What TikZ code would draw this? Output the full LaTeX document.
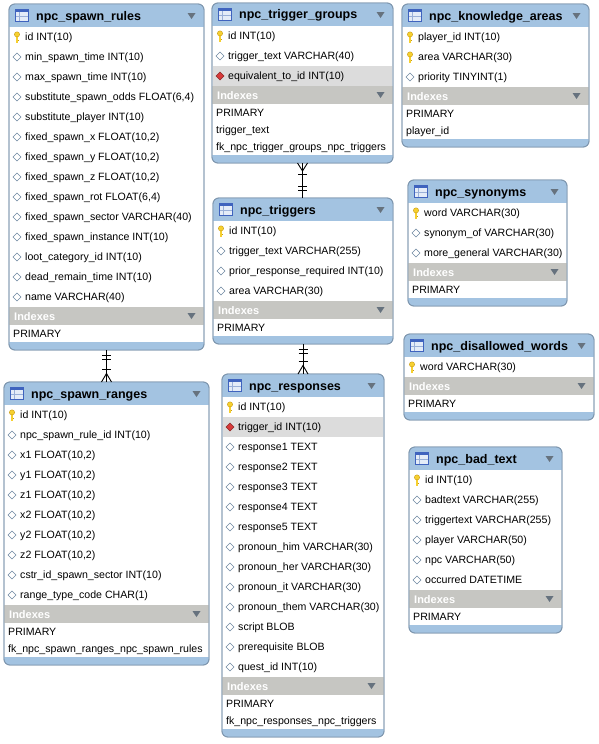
\documentclass[tikz,border=0pt]{standalone}
\usepackage{fontspec}
\setmainfont{Liberation Sans}
\usetikzlibrary{calc}
\definecolor{hdr}{HTML}{A3C3E1}
\definecolor{edge}{HTML}{7F97AF}
\definecolor{idxbar}{HTML}{C6C6C2}
\definecolor{hlrow}{HTML}{DCDCDC}
\definecolor{tri}{HTML}{66727E}
\definecolor{keyc}{HTML}{F6D030}
\definecolor{keyd}{HTML}{C89A10}
\definecolor{diam}{HTML}{6F88A2}
\definecolor{fkred}{HTML}{D83A3A}
\definecolor{fkdark}{HTML}{8A2A2A}
\definecolor{iconbg}{HTML}{E4ECF8}
\definecolor{iconblue}{HTML}{3F63BE}
\definecolor{iconline}{HTML}{9AB0D8}
\tikzset{
  tablebox/.style={draw=edge, line width=0.9pt, rounded corners=6pt, fill=white,
    inner sep=0pt, outer sep=0pt, anchor=north west},
  ttitle/.style={anchor=west, inner sep=0pt, font=\fontsize{12.5}{14}\selectfont\bfseries,
    text height=9pt, text depth=0pt},
  fieldtext/.style={anchor=west, inner sep=0pt, font=\fontsize{10.6}{12}\selectfont,
    text height=7.6pt, text depth=0pt},
  idxtitle/.style={anchor=west, inner sep=0pt, font=\fontsize{11}{13}\selectfont\bfseries,
    text=white, text height=8pt, text depth=0pt},
  link/.style={draw=black, line width=0.9pt},
}
% table frame: name, x, top, width, n fields, m indexes, title
\newcommand\tbl[7]{%
  \pgfmathsetmacro\tH{49+20*#5+17*#6}%
  \expandafter\xdef\csname nf#1\endcsname{#5}%
  \node[tablebox, minimum width=#4pt, minimum height=\tH pt] (#1) at (#2,#3) {};
  \begin{scope}
    \clip[rounded corners=6pt] (#1.north west) rectangle (#1.south east);
    \fill[hdr] (#1.north west) rectangle ($(#1.north east)+(0,23)$);
    \fill[idxbar] ($(#1.north west)+(0,23+20*#5)$) rectangle ($(#1.north east)+(0,41+20*#5)$);
    \fill[hdr] ($(#1.south west)+(0,-8)$) rectangle (#1.south east);
  \end{scope}
  \draw[edge, line width=0.9pt, rounded corners=6pt] (#1.north west) rectangle (#1.south east);
  \fill[iconbg] ($(#1.north west)+(6,5)$) rectangle ($(#1.north west)+(19,17)$);
  \fill[iconblue] ($(#1.north west)+(6,5)$) rectangle ($(#1.north west)+(19,8)$);
  \draw[iconline, line width=0.5pt] ($(#1.north west)+(10,8)$) -- ($(#1.north west)+(10,17)$)
    ($(#1.north west)+(6,12.5)$) -- ($(#1.north west)+(19,12.5)$);
  \draw[iconblue, line width=0.6pt] ($(#1.north west)+(6,5)$) rectangle ($(#1.north west)+(19,17)$);
  \node[ttitle] (#1-title) at ($(#1.north west)+(27,11.5)$) {#7};
  \fill[tri] ($(#1.north east)+(-16.5,9)$) -- ($(#1.north east)+(-8.5,9)$) -- ($(#1.north east)+(-12.5,15)$) -- cycle;
  \node[idxtitle] (#1-idx) at ($(#1.north west)+(5,32+20*#5)$) {Indexes};
  \fill[tri] ($(#1.north east)+(-16.5,29+20*#5)$) -- ($(#1.north east)+(-8.5,29+20*#5)$) -- ($(#1.north east)+(-12.5,35+20*#5)$) -- cycle;
}
\newcommand\keyico[1]{%
  \fill[keyc] ($(#1)+(7.2,-1)$) rectangle ($(#1)+(8.8,5.5)$);
  \fill[keyd] ($(#1)+(8.8,2.8)$) rectangle ($(#1)+(10,4.2)$);
  \filldraw[fill=keyc, draw=keyd, line width=0.4pt] ($(#1)+(8,-2.6)$) circle (2.6pt);
}
\newcommand\diaico[3]{%
  \filldraw[fill=#2, draw=#3, line width=0.6pt] ($(#1)+(4,0)$) -- ($(#1)+(8,-4)$)
    -- ($(#1)+(12,0)$) -- ($(#1)+(8,4)$) -- cycle;
}
% field row: table, index, type (k key, c column, f foreign key), text
\newcommand\fld[4]{%
  \coordinate (#1-r#2) at ($(#1.north west)+(0,33+20*#2)$);
  \if#3f\fill[hlrow] ($(#1.north west)+(0.6,23+20*#2)$) rectangle ($(#1.north east)+(-0.6,43+20*#2)$);\fi
  \if#3k\keyico{#1-r#2}\fi
  \if#3c\diaico{#1-r#2}{white}{diam}\fi
  \if#3f\diaico{#1-r#2}{fkred}{fkdark}\fi
  \node[fieldtext] (#1-f#2) at ($(#1-r#2)+(16,0)$) {#4};
}
% index row: table, index, text
\newcommand\ix[3]{%
  \edef\nn{\csname nf#1\endcsname}%
  \node[fieldtext] (#1-i#2) at ($(#1.north west)+(4,50+20*\nn+17*#2)$) {#3};
}
\begin{document}
\begin{tikzpicture}[x=1pt, y=-1pt]
\fill[white] (0,0) rectangle (599,744);
\useasboundingbox (0,0) rectangle (599,744);

% npc_spawn_rules
\tbl{rules}{9}{4}{195}{14}{1}{npc\_spawn\_rules}
\fld{rules}{0}{k}{id INT(10)}
\fld{rules}{1}{c}{min\_spawn\_time INT(10)}
\fld{rules}{2}{c}{max\_spawn\_time INT(10)}
\fld{rules}{3}{c}{substitute\_spawn\_odds FLOAT(6,4)}
\fld{rules}{4}{c}{substitute\_player INT(10)}
\fld{rules}{5}{c}{fixed\_spawn\_x FLOAT(10,2)}
\fld{rules}{6}{c}{fixed\_spawn\_y FLOAT(10,2)}
\fld{rules}{7}{c}{fixed\_spawn\_z FLOAT(10,2)}
\fld{rules}{8}{c}{fixed\_spawn\_rot FLOAT(6,4)}
\fld{rules}{9}{c}{fixed\_spawn\_sector VARCHAR(40)}
\fld{rules}{10}{c}{fixed\_spawn\_instance INT(10)}
\fld{rules}{11}{c}{loot\_category\_id INT(10)}
\fld{rules}{12}{c}{dead\_remain\_time INT(10)}
\fld{rules}{13}{c}{name VARCHAR(40)}
\ix{rules}{0}{PRIMARY}

% npc_trigger_groups
\tbl{groups}{212}{3}{181}{3}{3}{npc\_trigger\_groups}
\fld{groups}{0}{k}{id INT(10)}
\fld{groups}{1}{c}{trigger\_text VARCHAR(40)}
\fld{groups}{2}{f}{equivalent\_to\_id INT(10)}
\ix{groups}{0}{PRIMARY}
\ix{groups}{1}{trigger\_text}
\ix{groups}{2}{fk\_npc\_trigger\_groups\_npc\_triggers}

% npc_knowledge_areas
\tbl{knowledge}{402}{4}{187}{3}{2}{npc\_knowledge\_areas}
\fld{knowledge}{0}{k}{player\_id INT(10)}
\fld{knowledge}{1}{k}{area VARCHAR(30)}
\fld{knowledge}{2}{c}{priority TINYINT(1)}
\ix{knowledge}{0}{PRIMARY}
\ix{knowledge}{1}{player\_id}

% npc_synonyms
\tbl{synonyms}{408}{180}{159}{3}{1}{npc\_synonyms}
\fld{synonyms}{0}{k}{word VARCHAR(30)}
\fld{synonyms}{1}{c}{synonym\_of VARCHAR(30)}
\fld{synonyms}{2}{c}{more\_general VARCHAR(30)}
\ix{synonyms}{0}{PRIMARY}

% npc_triggers
\tbl{triggers}{213}{198}{180}{4}{1}{npc\_triggers}
\fld{triggers}{0}{k}{id INT(10)}
\fld{triggers}{1}{c}{trigger\_text VARCHAR(255)}
\fld{triggers}{2}{c}{prior\_response\_required INT(10)}
\fld{triggers}{3}{c}{area VARCHAR(30)}
\ix{triggers}{0}{PRIMARY}

% npc_disallowed_words
\tbl{disallowed}{404}{334}{190}{1}{1}{npc\_disallowed\_words}
\fld{disallowed}{0}{k}{word VARCHAR(30)}
\ix{disallowed}{0}{PRIMARY}

% npc_spawn_ranges
\tbl{ranges}{4}{382}{205}{10}{2}{npc\_spawn\_ranges}
\fld{ranges}{0}{k}{id INT(10)}
\fld{ranges}{1}{c}{npc\_spawn\_rule\_id INT(10)}
\fld{ranges}{2}{c}{x1 FLOAT(10,2)}
\fld{ranges}{3}{c}{y1 FLOAT(10,2)}
\fld{ranges}{4}{c}{z1 FLOAT(10,2)}
\fld{ranges}{5}{c}{x2 FLOAT(10,2)}
\fld{ranges}{6}{c}{y2 FLOAT(10,2)}
\fld{ranges}{7}{c}{z2 FLOAT(10,2)}
\fld{ranges}{8}{c}{cstr\_id\_spawn\_sector INT(10)}
\fld{ranges}{9}{c}{range\_type\_code CHAR(1)}
\ix{ranges}{0}{PRIMARY}
\ix{ranges}{1}{fk\_npc\_spawn\_ranges\_npc\_spawn\_rules}

% npc_responses
\tbl{responses}{222}{374}{162}{14}{2}{npc\_responses}
\fld{responses}{0}{k}{id INT(10)}
\fld{responses}{1}{f}{trigger\_id INT(10)}
\fld{responses}{2}{c}{response1 TEXT}
\fld{responses}{3}{c}{response2 TEXT}
\fld{responses}{4}{c}{response3 TEXT}
\fld{responses}{5}{c}{response4 TEXT}
\fld{responses}{6}{c}{response5 TEXT}
\fld{responses}{7}{c}{pronoun\_him VARCHAR(30)}
\fld{responses}{8}{c}{pronoun\_her VARCHAR(30)}
\fld{responses}{9}{c}{pronoun\_it VARCHAR(30)}
\fld{responses}{10}{c}{pronoun\_them VARCHAR(30)}
\fld{responses}{11}{c}{script BLOB}
\fld{responses}{12}{c}{prerequisite BLOB}
\fld{responses}{13}{c}{quest\_id INT(10)}
\ix{responses}{0}{PRIMARY}
\ix{responses}{1}{fk\_npc\_responses\_npc\_triggers}

% npc_bad_text
\tbl{badtext}{409}{447}{153}{6}{1}{npc\_bad\_text}
\fld{badtext}{0}{k}{id INT(10)}
\fld{badtext}{1}{c}{badtext VARCHAR(255)}
\fld{badtext}{2}{c}{triggertext VARCHAR(255)}
\fld{badtext}{3}{c}{player VARCHAR(50)}
\fld{badtext}{4}{c}{npc VARCHAR(50)}
\fld{badtext}{5}{c}{occurred DATETIME}
\ix{badtext}{0}{PRIMARY}

% relationship: npc_spawn_rules (one) -- npc_spawn_ranges (many)
\coordinate (c1a) at (rules.south);
\coordinate (c1b) at (rules.south |- ranges.north);
\draw[link] (rules.south) -- (c1b);
\draw[link] ($(c1a)+(-4.5,5)$) -- ($(c1a)+(4.5,5)$) ($(c1a)+(-4.5,9)$) -- ($(c1a)+(4.5,9)$);
\draw[link] ($(c1b)+(-4.5,-12.5)$) -- ($(c1b)+(4.5,-12.5)$);
\draw[link] ($(c1b)+(-5,0)$) -- ($(c1b)+(0,-8.5)$) -- ($(c1b)+(5,0)$);

% relationship: npc_trigger_groups (many) -- npc_triggers (one)
\coordinate (c2a) at (groups.south);
\coordinate (c2b) at (groups.south |- triggers.north);
\draw[link] (groups.south) -- (c2b);
\draw[link] ($(c2a)+(-5,0)$) -- ($(c2a)+(0,8)$) -- ($(c2a)+(5,0)$);
\draw[link] ($(c2a)+(-4.5,11.5)$) -- ($(c2a)+(4.5,11.5)$);
\draw[link] ($(c2b)+(-4.5,-12)$) -- ($(c2b)+(4.5,-12)$) ($(c2b)+(-4.5,-8)$) -- ($(c2b)+(4.5,-8)$);

% relationship: npc_triggers (one) -- npc_responses (many)
\coordinate (c3a) at (triggers.south);
\coordinate (c3b) at (triggers.south |- responses.north);
\draw[link] (triggers.south) -- (c3b);
\draw[link] ($(c3a)+(-4.5,5)$) -- ($(c3a)+(4.5,5)$) ($(c3a)+(-4.5,9)$) -- ($(c3a)+(4.5,9)$);
\draw[link] ($(c3b)+(-4.5,-12.5)$) -- ($(c3b)+(4.5,-12.5)$);
\draw[link] ($(c3b)+(-5,0)$) -- ($(c3b)+(0,-8.5)$) -- ($(c3b)+(5,0)$);
\end{tikzpicture}
\end{document}
